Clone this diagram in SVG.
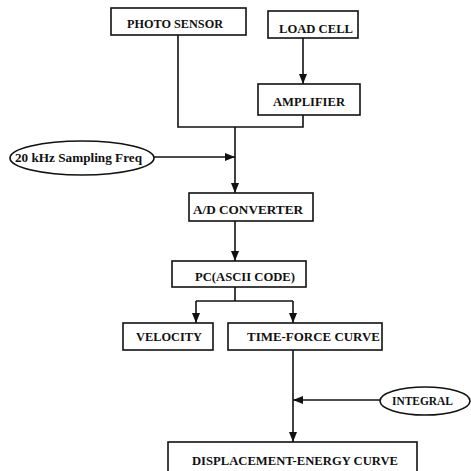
<svg xmlns="http://www.w3.org/2000/svg" width="471" height="471" viewBox="0 0 471 471">
<style>
.box{fill:#fff;stroke:#111;stroke-width:1.6}
.ell{fill:#fff;stroke:#111;stroke-width:1.6}
.t{font-family:"Liberation Serif",serif;font-weight:bold;font-size:12.5px;fill:#111}
.c{fill:none;stroke:#111;stroke-width:1.6}
</style>
<defs>
<marker id="ah" markerWidth="10" markerHeight="8" refX="10" refY="4" orient="auto" markerUnits="userSpaceOnUse" viewBox="0 0 10 8">
<path d="M0,0 L10,4 L0,8 Z" fill="#111"/>
</marker>
</defs>
<rect width="471" height="471" fill="#fff"/>
<g id="connectors">
<path class="c" d="M178,35 V127 H303 V115"/>
<path class="c" d="M303,38 V84" marker-end="url(#ah)"/>
<path class="c" d="M235,127 V193" marker-end="url(#ah)"/>
<path class="c" d="M154,157 H235" marker-end="url(#ah)"/>
<path class="c" d="M235,221 V261" marker-end="url(#ah)"/>
<path class="c" d="M235,287 V301"/>
<path class="c" d="M196,301 H293"/>
<path class="c" d="M196,301 V323" marker-end="url(#ah)"/>
<path class="c" d="M293,301 V323" marker-end="url(#ah)"/>
<path class="c" d="M293,350 V442" marker-end="url(#ah)"/>
<path class="c" d="M380,400 H293" marker-end="url(#ah)"/>
</g>
<g id="photo-sensor">
<rect class="box" x="111" y="8" width="135" height="27"/>
<text class="t" x="127" y="28" textLength="96" lengthAdjust="spacingAndGlyphs">PHOTO SENSOR</text>
</g>
<g id="load-cell">
<rect class="box" x="268" y="11" width="90" height="27"/>
<text class="t" x="279" y="33" textLength="74" lengthAdjust="spacingAndGlyphs">LOAD CELL</text>
</g>
<g id="amplifier">
<rect class="box" x="258" y="84" width="102" height="31"/>
<text class="t" x="273" y="106" textLength="72" lengthAdjust="spacingAndGlyphs">AMPLIFIER</text>
</g>
<g id="sampling-freq">
<ellipse class="ell" cx="82" cy="158" rx="72" ry="17"/>
<text class="t" x="15" y="162" textLength="127" lengthAdjust="spacingAndGlyphs">20 kHz Sampling Freq</text>
</g>
<g id="ad-converter">
<rect class="box" x="189" y="193" width="124" height="28"/>
<text class="t" x="193" y="214" textLength="110" lengthAdjust="spacingAndGlyphs">A/D  CONVERTER</text>
</g>
<g id="pc">
<rect class="box" x="172" y="261" width="134" height="26"/>
<text class="t" x="195" y="281" textLength="100" lengthAdjust="spacingAndGlyphs">PC(ASCII CODE)</text>
</g>
<g id="velocity">
<rect class="box" x="123" y="323" width="90" height="27"/>
<text class="t" x="136" y="341" textLength="66" lengthAdjust="spacingAndGlyphs">VELOCITY</text>
</g>
<g id="time-force">
<rect class="box" x="228" y="323" width="154" height="27"/>
<text class="t" x="247" y="341" textLength="133" lengthAdjust="spacingAndGlyphs">TIME-FORCE  CURVE</text>
</g>
<g id="integral">
<ellipse class="ell" cx="425" cy="401" rx="45" ry="14"/>
<text class="t" x="392" y="405" textLength="61" lengthAdjust="spacingAndGlyphs">INTEGRAL</text>
</g>
<g id="displacement-energy">
<rect class="box" x="168" y="442" width="249" height="40"/>
<text class="t" x="192" y="465" textLength="206" lengthAdjust="spacingAndGlyphs">DISPLACEMENT-ENERGY CURVE</text>
</g>
</svg>
